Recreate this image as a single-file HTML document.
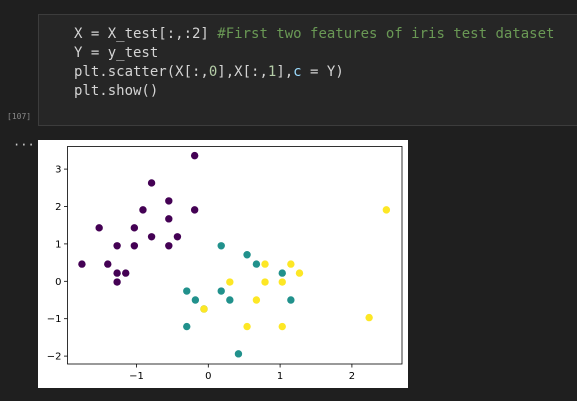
<!DOCTYPE html>
<html><head><meta charset="utf-8"><style>
body{margin:0;width:577px;height:401px;background:#1f1f1f;position:relative;overflow:hidden;font-family:"DejaVu Sans Mono","Liberation Mono",monospace}
#cell{position:absolute;left:38px;top:14px;width:545px;height:112px;background:#262626;border:1px solid #3c3c3c;box-sizing:border-box}
#code{position:absolute;left:35px;top:10px;color:#d4d4d4;font-size:14px;line-height:19px;white-space:pre}
.cm{color:#6a9955}.nm{color:#b5cea8}.kw{color:#9cdcfe}
#cnt{position:absolute;left:7px;top:112px;color:#8a8a8a;font-size:8px}
#dots{position:absolute;left:13px;top:138px;color:#ccc;font-size:12px}
#img{position:absolute;left:38px;top:140px;width:370px;height:248px;background:#fff}
</style></head><body>
<div id="cell"><div id="code">X = X_test[:,:2] <span class="cm">#First two features of iris test dataset</span>
Y = y_test
plt.scatter(X[:,<span class="nm">0</span>],X[:,<span class="nm">1</span>],<span class="kw">c</span> = Y)
plt.show()</div></div>
<div id="cnt">[107]</div>
<div id="dots">···</div>
<div id="img">
<svg id="svg" width="370" height="248" xmlns="http://www.w3.org/2000/svg" font-family="DejaVu Sans, Liberation Sans, sans-serif" font-size="10"></svg>
</div>
<script>
const xs0=[-0.19,-0.79,-0.55,-0.91,-0.19,-0.55,-1.52,-1.03,-0.79,-0.43,-1.27,-1.03,-0.55,-1.76,-1.40,-1.27,-1.15,-1.27];
const ys0=[3.36,2.63,2.15,1.91,1.91,1.67,1.43,1.43,1.19,1.19,0.95,0.95,0.95,0.46,0.46,0.22,0.22,-0.02];
const xs1=[0.18,0.54,0.67,1.03,-0.30,0.18,-0.18,0.30,1.15,-0.30,0.42,-0.06];
const ys1=[0.95,0.71,0.46,0.22,-0.26,-0.26,-0.50,-0.50,-0.50,-1.21,-1.94,-0.74];
const xs2=[0.79,1.15,1.27,0.30,0.79,1.03,0.67,-0.06,0.54,1.03,2.24,2.48];
const ys2=[0.46,0.46,0.22,-0.02,-0.02,-0.02,-0.50,-0.74,-1.21,-1.21,-0.97,1.91];
const xTicks=[-1,0,1,2];
const yTicks=[-2,-1,0,1,2,3];
const NS="http://www.w3.org/2000/svg";
const svg=document.getElementById('svg');
const L=29.5,R=364,T=6.5,B=224;
const sx=v=>170.3+v*71.8;
const sy=v=>141.3-v*37.4;
function mk(t,a){const e=document.createElementNS(NS,t);for(const k in a)e.setAttribute(k,a[k]);svg.appendChild(e);return e;}
const fr=mk('rect',{x:L,y:T,width:R-L,height:B-T,fill:'none',stroke:'#000','stroke-width':0.8});


xTicks.forEach(v=>{
  const t=mk('line',{x1:sx(v),x2:sx(v),y1:B,y2:B+3.5,stroke:'#000','stroke-width':0.8});
  
  
  const l=mk('text',{x:sx(v),y:B+15,'text-anchor':'middle',fill:'#000'});
  l.textContent=v<0?'\u2212'+(-v):String(v);
  
  
});
yTicks.forEach(v=>{
  const t=mk('line',{x1:L-3.5,x2:L,y1:sy(v),y2:sy(v),stroke:'#000','stroke-width':0.8});
  
  
  const l=mk('text',{x:L-6,y:sy(v)+3.5,'text-anchor':'end',fill:'#000'});
  l.textContent=v<0?'\u2212'+(-v):String(v);
  
  
});
function series(xs,ys,c,name){xs.forEach((x,i)=>{
  const p=mk('circle',{cx:sx(x),cy:sy(ys[i]),r:3.7,fill:c});
  
  
});}
series(xs0,ys0,'#440154','point-class-0');
series(xs1,ys1,'#21918c','point-class-1');
series(xs2,ys2,'#fde725','point-class-2');
</script>
</body></html>
